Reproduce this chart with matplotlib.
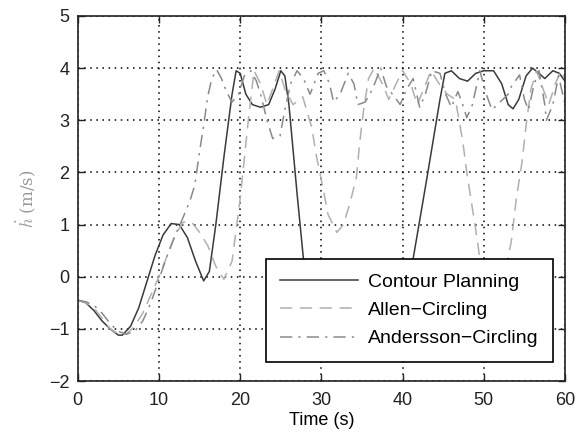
import matplotlib
matplotlib.use("Agg")
import matplotlib.pyplot as plt

plt.rcParams['font.family'] = ['Liberation Sans', 'DejaVu Sans']
plt.rcParams['mathtext.fontset'] = 'cm'

# Contour Planning (solid)
t_cp = [0, 1, 2, 3, 4, 5, 5.5, 6.5, 7.5, 8.5, 9.5, 10.5, 11.5, 12.5, 13.5, 14.5, 15.5,
        16.2, 17, 18, 19, 19.5, 20, 20.7, 21.5, 22.5, 23.5, 24.3, 25, 25.5, 26, 27, 28,
        29, 30, 33, 36, 38, 39.5, 41.3, 43, 44.6, 45.2, 46, 47, 48, 49, 50, 51.2, 52.2,
        53, 53.6, 54.3, 55.2, 56, 56.8, 57.5, 58.5, 59.3, 60]
h_cp = [-0.45, -0.5, -0.65, -0.85, -1.0, -1.12, -1.12, -0.95, -0.6, -0.1, 0.4, 0.8, 1.02,
        1.0, 0.75, 0.3, -0.08, 0.1, 1.0, 2.3, 3.5, 3.95, 3.9, 3.5, 3.3, 3.25, 3.3, 3.6,
        3.95, 3.85, 3.3, 1.6, 0.0, -1.2, -1.5, -1.6, -1.6, -1.4, -0.8, 0.35, 1.9, 3.4, 3.9,
        3.95, 3.8, 3.75, 3.9, 3.95, 3.95, 3.7, 3.3, 3.22, 3.4, 3.85, 4.0, 3.9, 3.8, 3.95,
        3.9, 3.75]

# Allen-Circling (dashed)
t_al = [0, 1, 2, 3, 4, 5, 6, 7, 8, 9, 10, 11, 12, 13, 14, 15, 16, 17, 18, 19, 20, 21,
        21.7, 22.5, 23.3, 24, 24.8, 25.5, 26.5, 27.7, 28.8, 29.4, 30.2, 30.8, 31.9, 32.7,
        33.5, 34.3, 34.7, 35.2, 35.8, 36.5, 37.5, 38.3, 39.2, 40, 41, 41.8, 42.6, 43.5,
        44.5, 45.5, 46.5, 47.4, 47.9, 48.5, 49.1, 50, 51, 52, 52.8, 53.4, 54, 54.7, 55.2,
        55.8, 56.5, 57.3, 58, 58.8, 59.5, 60]
h_al = [-0.45, -0.5, -0.6, -0.8, -1.0, -1.1, -1.1, -0.95, -0.7, -0.35, 0.0, 0.4, 0.8,
        1.05, 1.05, 0.85, 0.6, 0.2, -0.05, 0.3, 1.5, 3.0, 3.95, 3.7, 3.3, 3.6, 3.95, 3.6,
        3.3, 3.45, 2.87, 2.3, 1.7, 1.2, 0.85, 1.0, 1.4, 1.9, 2.55, 3.2, 3.8, 4.0, 3.7, 3.4,
        3.7, 3.95, 3.7, 3.3, 3.6, 3.95, 3.7, 3.5, 3.4, 2.6, 2.0, 1.4, 0.8, -0.2, -0.7,
        -0.5, 0.2, 0.7, 1.5, 2.2, 2.9, 3.6, 3.95, 3.6, 3.3, 3.7, 3.95, 3.8]

# Andersson-Circling (dash-dot)
t_an = [0, 1, 2, 3, 4, 5, 6, 7, 8, 9, 10, 11, 12, 12.6, 13.8, 14.4, 15, 15.5, 16, 16.5,
        17.1, 17.7, 18.3, 19, 19.8, 20.5, 21.3, 22, 22.6, 23.3, 24.0, 24.9, 25.5, 26.2,
        27, 27.8, 28.6, 29.6, 30.3, 31.0, 31.5, 32.3, 33.3, 34.0, 34.5, 35.4, 36.3, 37.3,
        38.0, 39, 39.7, 40.5, 41.3, 42.1, 42.8, 43.6, 44.6, 45.3, 46, 46.8, 47.4, 47.9,
        48.6, 49.5, 50.3, 51, 52, 53, 53.4, 54.4, 55, 55.5, 56.2, 56.8, 57.5, 57.7, 58.5,
        59.2, 60]
h_an = [-0.45, -0.48, -0.55, -0.7, -0.9, -1.05, -1.1, -1.05, -0.85, -0.5, -0.05, 0.4,
        0.8, 1.0, 1.45, 1.75, 2.4, 2.9, 3.45, 3.8, 3.97, 3.8, 3.55, 3.35, 3.5, 3.85, 3.95,
        3.75, 3.45, 3.0, 2.65, 2.7, 3.2, 3.7, 3.95, 3.8, 3.5, 3.9, 3.95, 3.7, 3.35, 3.5,
        3.9, 3.7, 3.3, 3.35, 3.6, 4.0, 3.65, 3.45, 3.3, 3.6, 3.8, 3.25, 3.5, 3.95, 3.9,
        3.5, 3.25, 3.55, 3.3, 3.05, 3.3, 3.95, 3.5, 3.2, 3.35, 3.5, 3.65, 3.87, 3.4, 3.2,
        3.7, 3.95, 3.3, 3.0, 3.3, 3.85, 3.3]

labels = ['Contour Planning', 'Allen\u2212Circling', 'Andersson\u2212Circling']
xticks = [0, 10, 20, 30, 40, 50, 60]
yticks = [-2, -1, 0, 1, 2, 3, 4, 5]

fig = plt.figure(figsize=(5.76, 4.32), dpi=100)
ax = fig.add_axes([0.135, 0.118, 0.846, 0.845])

ax.plot(t_cp, h_cp, color='#3a3a3a', lw=1.1, ls='-', label=labels[0])
ax.plot(t_al, h_al, color='#b0b0b0', lw=1.1, ls=(0, (8, 5)), label=labels[1])
ax.plot(t_an, h_an, color='#8a8a8a', lw=1.1, ls=(0, (8, 4, 1.5, 4)), label=labels[2])

ax.set_xlim(0, 60)
ax.set_ylim(-2, 5)
ax.set_xticks(xticks)
ax.set_yticks(yticks)
ax.grid(True, color='black', ls=(0, (1, 3)), lw=1.1)
ax.tick_params(axis='both', direction='in', length=5, width=1, top=True, right=True,
               labelsize=13, colors='#222222')
ax.tick_params(axis='x', pad=8)
ax.tick_params(axis='y', pad=6)
for s in ax.spines.values():
    s.set_linewidth(1.2)
    s.set_color('#222222')

ax.set_xlabel('Time (s)', fontsize=13, labelpad=2)
ax.set_ylabel(r'$\dot{h}$ (m/s)', fontsize=12, color='#999999',
              family=['DejaVu Serif'], labelpad=8)

leg = ax.legend(loc='lower right', bbox_to_anchor=(0.975, 0.052), fontsize=14,
                handlelength=4.0, frameon=True, fancybox=False, edgecolor='black',
                framealpha=1.0, borderaxespad=0.0, labelspacing=0.55,
                handletextpad=0.5, borderpad=0.75)
leg.get_frame().set_linewidth(1.2)

fig.savefig('out.png', dpi=100)
